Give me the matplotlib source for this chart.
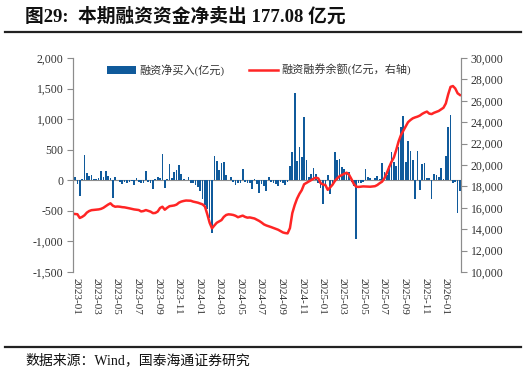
import matplotlib
matplotlib.use("Agg")
import matplotlib.pyplot as plt
import matplotlib.dates as mdates
from matplotlib.lines import Line2D
import numpy as np
import pandas as pd

# ---------------- data ----------------
start_date = "2022-12-30"
n_weeks = 164

net_buy = [
    55, -60, -250, 20, 410, 120, 70, 80, 20, 15,
    30, 150, 60, 150, 70, 30, -290, 50, 5, -30,
    -60, -30, -50, -20, -5, -80, 40, -30, -50, -40,
    150, -20, -40, -150, 20, 50, 40, 430, -125, 20,
    260, 30, 130, 170, 250, 110, 20, 10, 50, -50,
    -40, -80, -110, -170, -300, -400, -470, -610, -860, 390,
    320, 170, 290, 300, 80, 10, 50, -20, -70, -40,
    -50, 180, -20, -40, -50, -150, 20, -60, -200, -60,
    -100, -170, 50, -20, -40, -60, -100, -30, -40, -70,
    -20, 240, 470, 1430, 310, 540, 380, 1040, 330, 50,
    110, 200, 100, -40, -120, -380, -100, 80, -220, -40,
    470, 330, 340, 220, 180, 130, 140, -30, -100, -960,
    -50, -40, -30, 180, 50, 30, 5, 30, 70, 20,
    275, 130, 80, 240, 460, 300, 240, 540, 870, 1050,
    300, 645, 480, 335, -307, 480, -155, 270, 280, 40,
    30, -310, 110, 80, 50, 200, 20, 400, 870, 1060,
    -40, -30, -540, -177,
]

balance = [
    15420, 15400, 15050, 15150, 15300, 15550, 15700, 15780, 15800, 15830,
    15850, 15900, 16000, 16150, 16300, 16420, 16200, 16100, 16120, 16100,
    16060, 16040, 16000, 15950, 15900, 15850, 15820, 15790, 15660, 15700,
    15790, 15720, 15640, 15500, 15520, 15650, 15980, 16100, 15820, 16000,
    16150, 16180, 16220, 16300, 16480, 16580, 16640, 16680, 16670, 16660,
    16580, 16530, 16480, 16400, 16320, 16120, 15400, 14600, 14080, 14350,
    14600, 14720, 14850, 15150, 15330, 15390, 15370, 15330, 15250, 15120,
    15200, 15270, 15150, 15080, 15100, 15050, 15000, 14880, 14770, 14620,
    14450, 14350, 14280, 14200, 14120, 14040, 13950, 13830, 13700, 13640,
    13610, 14100, 15500, 16250, 16850, 17300, 17650, 18200, 18330, 18450,
    18600, 18720, 18820, 18750, 18300, 18180, 18130, 17680, 17900, 18150,
    18500, 18750, 18950, 19070, 19180, 19280, 19100, 18700, 18250, 17980,
    17950, 17980, 18000, 17990, 17980, 17970, 18000, 18020, 18130, 18300,
    18440, 18750, 19250, 19800, 20300, 20700, 21400, 22200, 22800, 23200,
    23600, 24000, 24200, 24360, 24450, 24520, 24620, 24780, 24900, 24990,
    24800, 24760, 24880, 24960, 25050, 25200, 25350, 25750, 26600, 27300,
    27380, 27150, 26700, 26540,
]

left_ticks = [-1500, -1000, -500, 0, 500, 1000, 1500, 2000]
right_ticks = [10000, 12000, 14000, 16000, 18000, 20000, 22000, 24000, 26000, 28000, 30000]
bar_label = "融资净买入(亿元)"
line_label = "融资融券余额(亿元，右轴)"
title = "图29:  本期融资资金净卖出 177.08 亿元"
source = "数据来源：Wind，国泰海通证券研究"

dates = pd.date_range(start_date, periods=n_weeks, freq="7D")

# ---------------- style ----------------
FONT = ["Liberation Serif", "Noto Sans CJK SC", "DejaVu Sans"]
plt.rcParams["font.family"] = FONT
BAR_C = "#105A9B"
LINE_C = "#FF2525"
AX_C = "#8C8C8C"
TXT_C = "#333333"

fig = plt.figure(figsize=(5.26, 3.75), dpi=100)
ax = fig.add_axes([73 / 526, 1 - 272 / 375, (461 - 73) / 526, (272 - 58) / 375])
ax2 = ax.twinx()

bars = ax.bar(dates, net_buy, width=5, color=BAR_C, label=bar_label, zorder=2)
ax.axhline(0, color=AX_C, lw=0.8, zorder=1)
line, = ax2.plot(dates, balance, color=LINE_C, lw=1.8, label=line_label)

ax.set_ylim(-1500, 2000)
ax.set_yticks(left_ticks)
ax.set_yticklabels([f"{v:,}" for v in left_ticks])
ax2.set_ylim(10000, 30000)
ax2.set_yticks(right_ticks)
ax2.set_yticklabels([f"{v:,}" for v in right_ticks])

ax.set_xlim(pd.Timestamp("2022-12-24"), pd.Timestamp("2026-02-16"))
ax.xaxis.set_major_locator(mdates.MonthLocator(bymonth=[1, 3, 5, 7, 9, 11]))
ax.xaxis.set_major_formatter(mdates.DateFormatter("%Y-%m"))
for lab in ax.get_xticklabels():
    lab.set_rotation(-90)
ax.tick_params(axis="x", length=0, pad=4, labelsize=8, colors=TXT_C)
ax.tick_params(axis="y", length=4, width=0.8, color=AX_C, labelsize=8.5, labelcolor=TXT_C, pad=3)
ax2.tick_params(axis="y", length=4, width=0.8, color=AX_C, labelsize=8.5, labelcolor=TXT_C, pad=3)

for a in (ax, ax2):
    a.spines["top"].set_visible(False)
    a.spines["bottom"].set_visible(False)
    a.spines["left"].set_color(AX_C)
    a.spines["right"].set_color(AX_C)
    a.spines["left"].set_linewidth(0.8)
    a.spines["right"].set_linewidth(0.8)
ax.patch.set_visible(False)

leg = ax2.legend([bars, line], [bar_label, line_label], loc="upper center",
                 bbox_to_anchor=(0.48, 1.02), ncol=2, frameon=False,
                 fontsize=8, handlelength=2.6, handletextpad=0.3,
                 columnspacing=2.2, labelcolor=TXT_C)

fig.text(25 / 526, 1 - 17 / 375, title, fontsize=13.5, fontweight="bold",
         va="center", ha="left", color="#111111")
fig.add_artist(Line2D([5 / 526, 521 / 526], [1 - 32 / 375] * 2, color="#222222", lw=1.6))
fig.add_artist(Line2D([5 / 526, 521 / 526], [1 - 347 / 375] * 2, color="#222222", lw=1.6))
fig.text(25 / 526, 1 - 360 / 375, source, fontsize=10, va="center", ha="left", color="#111111")

fig.savefig("out.png", dpi=100)
